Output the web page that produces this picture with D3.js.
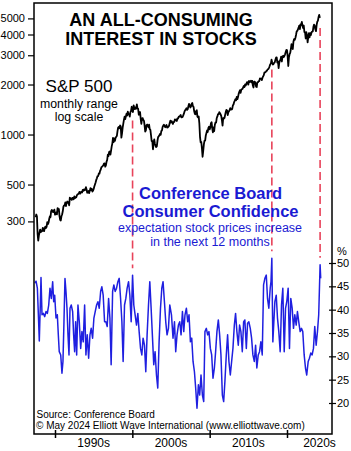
<!DOCTYPE html>
<html>
<head>
<meta charset="utf-8">
<script src="https://cdn.jsdelivr.net/npm/d3@7"></script>
<style>
  body { margin: 0; background: #fff; }
</style>
</head>
<body>
<div id="chart"></div>
<script>
const FONT = '"Liberation Sans", Arial, sans-serif';
const width = 351;
const height = 451;
const frame = { left: 34, right: 332, top: 3, bottom: 434 };

// S&P 500 monthly closes, starting Jul 1987
const spStart = 1987.5;
const sp500Monthly = [
  318, 330, 321, 252, 230, 247,
  257, 268, 259, 261, 262, 274, 272, 262, 272, 279, 274, 278,
  297, 289, 295, 310, 321, 318, 346, 351, 349, 341, 346, 353,
  329, 332, 340, 331, 361, 358, 356, 323, 306, 304, 322, 330,
  344, 367, 375, 375, 390, 371, 388, 395, 388, 392, 375, 417,
  409, 413, 404, 415, 415, 408, 424, 414, 418, 419, 431, 436,
  439, 443, 452, 440, 450, 451, 448, 464, 459, 468, 462, 466,
  482, 467, 446, 451, 457, 444, 458, 475, 463, 472, 454, 459,
  470, 487, 501, 515, 533, 545, 562, 562, 584, 582, 605, 616,
  636, 640, 646, 654, 669, 671, 640, 652, 687, 705, 757, 741,
  786, 791, 757, 801, 848, 885, 954, 899, 947, 915, 955, 970,
  980, 1049, 1102, 1112, 1091, 1134, 1121, 957, 1017, 1099, 1164, 1229,
  1280, 1238, 1286, 1335, 1302, 1373, 1329, 1320, 1283, 1363, 1389, 1469,
  1394, 1366, 1499, 1452, 1421, 1455, 1431, 1518, 1437, 1429, 1315, 1320,
  1366, 1240, 1160, 1249, 1256, 1224, 1211, 1134, 1041, 1060, 1139, 1148,
  1130, 1107, 1147, 1077, 1067, 990, 912, 916, 815, 886, 936, 880,
  856, 841, 848, 917, 964, 975, 990, 1008, 996, 1051, 1058, 1112,
  1131, 1145, 1126, 1107, 1121, 1141, 1102, 1104, 1115, 1130, 1174, 1212,
  1181, 1204, 1181, 1157, 1192, 1191, 1234, 1220, 1229, 1207, 1249, 1248,
  1280, 1281, 1295, 1311, 1270, 1270, 1277, 1304, 1336, 1378, 1401, 1418,
  1438, 1407, 1421, 1482, 1531, 1503, 1455, 1474, 1527, 1549, 1481, 1468,
  1379, 1331, 1323, 1386, 1400, 1280, 1267, 1283, 1165, 969, 896, 903,
  826, 735, 798, 873, 919, 919, 987, 1021, 1057, 1036, 1096, 1115,
  1074, 1104, 1169, 1187, 1089, 1031, 1102, 1049, 1141, 1183, 1181, 1258,
  1286, 1327, 1326, 1364, 1345, 1321, 1292, 1219, 1131, 1253, 1247, 1258,
  1312, 1366, 1408, 1398, 1310, 1362, 1379, 1407, 1441, 1412, 1416, 1426,
  1498, 1515, 1569, 1598, 1631, 1606, 1686, 1633, 1682, 1757, 1806, 1848,
  1783, 1859, 1872, 1884, 1924, 1960, 1931, 2003, 1972, 2018, 2068, 2059,
  1995, 2105, 2068, 2086, 2107, 2063, 2104, 1972, 1920, 2079, 2080, 2044,
  1940, 1932, 2060, 2065, 2097, 2099, 2174, 2171, 2168, 2126, 2199, 2239,
  2279, 2364, 2363, 2384, 2412, 2423, 2470, 2472, 2519, 2575, 2648, 2674,
  2824, 2714, 2641, 2648, 2705, 2718, 2816, 2902, 2914, 2712, 2760, 2507,
  2704, 2784, 2834, 2946, 2752, 2942, 2980, 2926, 2977, 3038, 3141, 3231,
  3226, 2954, 2585, 2912, 3044, 3100, 3271, 3500, 3363, 3270, 3622, 3756,
  3714, 3811, 3973, 4181, 4204, 4298, 4395, 4523, 4308, 4605, 4567, 4766,
  4516, 4374, 4530, 4132, 4132, 3785, 4130, 3955, 3586, 3872, 4080, 3840,
  4077, 3970, 4109, 4169, 4180, 4450, 4589, 4508, 4288, 4194, 4568, 4770,
  4846, 5096, 5254, 5036
];

// Conference Board: % expecting stock prices to increase, [date, %]
const confReadings = [
  [1987.42,45.7],[1987.55,46.1],[1987.72,44.6],[1987.85,38.9],[1987.97,33.3],[1988.10,41],
  [1988.19,46.9],[1988.32,38.9],[1988.49,39.2],[1988.67,38.5],[1988.84,39.6],[1989.01,39.2],
  [1989.19,41],[1989.35,44.6],[1989.52,42.4],[1989.70,46],[1989.83,41.7],[1989.96,43.1],
  [1990.13,38.2],[1990.30,38.9],[1990.43,34.6],[1990.55,31],[1990.74,30.3],[1990.90,26.4],
  [1991.03,28.9],[1991.16,37.4],[1991.29,46.7],[1991.42,43.9],[1991.55,40.3],[1991.68,34.6],
  [1991.81,30.3],[1991.94,40.3],[1992.10,41],[1992.28,39.6],[1992.41,34.6],[1992.54,31],
  [1992.67,37.4],[1992.80,30.3],[1992.97,41],[1993.14,37.4],[1993.32,31.7],[1993.48,35.3],
  [1993.65,33.1],[1993.83,41],[1994.00,30.3],[1994.17,34.6],[1994.35,29.6],[1994.52,34.6],
  [1994.68,36],[1994.86,33.9],[1995.03,38.2],[1995.20,39.6],[1995.38,41],[1995.55,41.7],
  [1995.72,40.3],[1995.90,43.9],[1996.06,44.9],[1996.23,43.1],[1996.41,37.4],
  [1996.58,37.4],[1996.75,36.4],[1996.93,42.4],[1997.10,38.2],[1997.26,28.2],[1997.45,43.9],
  [1997.61,45.3],[1997.78,43.9],[1997.96,44.6],[1998.13,46],[1998.30,46.7],[1998.48,42.4],
  [1998.65,37.4],[1998.81,28.9],[1998.99,41],[1999.16,42.4],[1999.33,44.6],[1999.51,46],
  [1999.68,43.1],[1999.85,37.4],[2000.03,47.4],[2000.19,41],[2000.36,38.9],[2000.54,36.7],
  [2000.71,39.2],[2000.88,35.3],[2001.06,31.7],[2001.23,30.3],[2001.39,33.9],[2001.57,32.4],
  [2001.74,26.7],[2001.91,34.6],[2002.09,41],[2002.26,46],[2002.43,40.3],[2002.61,33.9],
  [2002.77,28.2],[2002.94,31],[2003.12,26],[2003.29,23.2],[2003.46,33.1],[2003.64,40.3],
  [2003.81,44.6],[2003.97,46],[2004.15,41.7],[2004.32,37.4],[2004.49,34.6],[2004.67,36],
  [2004.84,41],[2005.06,38.9],[2005.26,33.9],[2005.45,37.4],[2005.61,31],[2005.78,34.6],
  [2005.96,36.7],[2006.13,37.4],[2006.30,34.6],[2006.48,39.6],[2006.65,35.3],[2006.81,38.9],
  [2006.99,40.3],[2007.16,37.4],[2007.33,38.9],[2007.51,33.1],[2007.68,33.9],[2007.85,28.9],
  [2008.03,26.7],[2008.19,23.2],[2008.36,18.9],[2008.54,23.9],[2008.71,21.7],[2008.88,26],
  [2009.06,21.7],[2009.23,20.3],[2009.39,35.3],[2009.57,36],[2009.74,34.6],[2009.91,35.3],
  [2010.09,31.7],[2010.26,30.3],[2010.43,25.3],[2010.61,27.5],[2010.77,31],[2010.94,35.3],
  [2011.12,37.8],[2011.29,34.6],[2011.46,30.3],[2011.64,21.7],[2011.81,20.3],[2011.97,24.6],
  [2012.15,30.3],[2012.32,34.6],[2012.49,28.9],[2012.67,26],[2012.84,28.9],[2013.01,31.7],
  [2013.19,36.7],[2013.35,39.2],[2013.52,35.3],[2013.70,32.4],[2013.87,36.7],
  [2014.04,35.3],[2014.22,31],[2014.39,37.4],[2014.55,37.8],[2014.74,31.7],[2014.90,37.1],
  [2015.07,37.4],[2015.25,36],[2015.42,33.9],[2015.59,30.3],[2015.77,28.9],[2015.94,32.4],
  [2016.10,27.5],[2016.28,30.3],[2016.45,31],[2016.62,33.1],[2016.80,30.3],[2016.97,45.3],
  [2017.14,46.7],[2017.32,47.4],[2017.48,42.4],[2017.65,40.3],[2017.83,44.6],[2017.93,46],
  [2018.04,51],[2018.17,33.1],[2018.43,41.7],[2018.61,43.1],[2018.77,38.2],[2018.94,35.3],
  [2019.12,31],[2019.29,41],[2019.46,44.6],[2019.64,31],[2019.81,40.3],[2019.97,41.7],
  [2020.15,44.6],[2020.32,31.7],[2020.49,42.4],[2020.67,40.3],[2020.84,36],[2021.01,38.9],
  [2021.19,36.7],[2021.35,39.6],[2021.52,37.4],[2021.70,35.3],[2021.87,36],[2022.04,35.3],
  [2022.22,30.3],[2022.39,27.5],[2022.55,26],[2022.74,28.9],[2022.90,29.6],[2023.07,30.7],
  [2023.25,30.3],[2023.42,31.7],[2023.59,36.4],[2023.77,32.4],[2023.94,35.3],[2024.10,38.9],
  [2024.28,49.6],[2024.36,46.7]
];

const spTicks = [300, 500, 1000, 2000, 3000, 4000, 5000];
const confTicks = [20, 25, 30, 35, 40, 45, 50];
const decadeStarts = [1990, 2000, 2010, 2020];
const decadeLabels = ["1990s", "2000s", "2010s", "2020s"];
const peakDates = [2000.03, 2018.04, 2024.28];

const svg = d3.select("#chart")
  .append("svg")
  .attr("width", width)
  .attr("height", height)
  .style("display", "block")
  .style("font-family", FONT);

svg.append("rect").attr("width", width).attr("height", height).attr("fill", "#fff");

const x = d3.scaleLinear().domain([1990, 2020]).range([55, 287]);
const ySp = d3.scaleLog().domain([300, 5000]).range([221.4, 18.4]);
const yConf = d3.scaleLinear().domain([20, 50]).range([403, 263]);

const spPoints = sp500Monthly.map((v, i) => [spStart + i / 12, v]);

// red dashed lines linking peaks
peakDates.forEach(d => {
  const sp = spPoints.reduce((a, b) => Math.abs(b[0] - d) < Math.abs(a[0] - d) ? b : a);
  const cf = confReadings.reduce((a, b) => Math.abs(b[0] - d) < Math.abs(a[0] - d) ? b : a);
  svg.append("line")
    .attr("x1", x(d)).attr("x2", x(d))
    .attr("y1", ySp(sp[1]) + 10)
    .attr("y2", yConf(cf[1]) - 7)
    .attr("stroke", "#e8435a")
    .attr("stroke-width", 1.6)
    .attr("stroke-dasharray", "8,4");
});

// S&P line
svg.append("path")
  .datum(spPoints)
  .attr("d", d3.line().x(d => x(d[0])).y(d => ySp(d[1])))
  .attr("fill", "none")
  .attr("stroke", "#000")
  .attr("stroke-width", 1.8)
  .attr("stroke-linejoin", "round");

// confidence line
svg.append("path")
  .datum(confReadings)
  .attr("d", d3.line().x(d => x(d[0])).y(d => yConf(d[1])))
  .attr("fill", "none")
  .attr("stroke", "#1f1fe0")
  .attr("stroke-width", 1.5)
  .attr("stroke-linejoin", "round");

// frame
svg.append("rect")
  .attr("x", frame.left).attr("y", frame.top)
  .attr("width", frame.right - frame.left)
  .attr("height", frame.bottom - frame.top)
  .attr("fill", "none")
  .attr("stroke", "#000")
  .attr("stroke-width", 1.5);

// left axis
svg.append("g")
  .attr("transform", `translate(${frame.left},0)`)
  .call(d3.axisLeft(ySp).tickValues(spTicks).tickFormat(d3.format("d")).tickSize(6).tickPadding(3))
  .attr("font-family", FONT).attr("font-size", 11)
  .call(g => g.select(".domain").remove())
  .call(g => g.selectAll("line").attr("stroke-width", 1.2))
  .call(g => g.selectAll("text").attr("fill", "#000"));

// right axis
svg.append("g")
  .attr("transform", `translate(${frame.right},0)`)
  .call(d3.axisRight(yConf).tickValues(confTicks).tickSize(4).tickPadding(1))
  .attr("font-family", FONT).attr("font-size", 11)
  .call(g => g.select(".domain").remove())
  .call(g => g.selectAll("line").attr("x1", -3).attr("stroke-width", 1.2))
  .call(g => g.selectAll("text").attr("fill", "#000"));

svg.append("text")
  .attr("x", 337).attr("y", 255)
  .attr("font-size", 11)
  .text("%");

// bottom ticks + decade labels
svg.append("g")
  .attr("transform", `translate(0,${frame.bottom})`)
  .call(d3.axisBottom(x).tickValues(decadeStarts).tickFormat("").tickSize(4))
  .call(g => g.select(".domain").remove())
  .call(g => g.selectAll("line").attr("y1", -4).attr("stroke-width", 1.5));

svg.selectAll(".decade")
  .data(decadeStarts)
  .enter()
  .append("text")
  .attr("class", "decade")
  .attr("x", d => Math.min(x(d + 5), 319.5))
  .attr("y", 446.5)
  .attr("text-anchor", "middle")
  .attr("font-size", 12)
  .text((d, i) => decadeLabels[i]);

// title
const title = svg.append("text")
  .attr("text-anchor", "middle")
  .attr("font-size", 18)
  .attr("font-weight", "bold");
title.append("tspan").attr("x", 161).attr("y", 25.5).text("AN ALL-CONSUMING");
title.append("tspan").attr("x", 161).attr("y", 45).text("INTEREST IN STOCKS");

// S&P label
svg.append("text").attr("x", 79).attr("y", 92).attr("text-anchor", "middle")
  .attr("font-size", 17).text("S&P 500");
svg.append("text").attr("x", 79).attr("y", 108).attr("text-anchor", "middle")
  .attr("font-size", 12.3).text("monthly range");
svg.append("text").attr("x", 79).attr("y", 120.5).attr("text-anchor", "middle")
  .attr("font-size", 12.3).text("log scale");

// confidence label
const blue = "#1a1ad2";
svg.append("text").attr("x", 210.5).attr("y", 199).attr("text-anchor", "middle")
  .attr("font-size", 16.5).attr("font-weight", "bold").attr("fill", blue)
  .text("Conference Board");
svg.append("text").attr("x", 210.5).attr("y", 217).attr("text-anchor", "middle")
  .attr("font-size", 16.5).attr("font-weight", "bold").attr("fill", blue)
  .text("Consumer Confidence");
svg.append("text").attr("x", 210).attr("y", 231.5).attr("text-anchor", "middle")
  .attr("font-size", 12.5).attr("fill", blue)
  .text("expectation stock prices increase");
svg.append("text").attr("x", 210).attr("y", 245.5).attr("text-anchor", "middle")
  .attr("font-size", 12.5).attr("fill", blue)
  .text("in the next 12 months");

// source
svg.append("text").attr("x", 36.5).attr("y", 417.5)
  .attr("font-size", 10).text("Source: Conference Board");
svg.append("text").attr("x", 36).attr("y", 428.5)
  .attr("font-size", 10).text("© May 2024 Elliott Wave International (www.elliottwave.com)");
</script>
</body>
</html>
